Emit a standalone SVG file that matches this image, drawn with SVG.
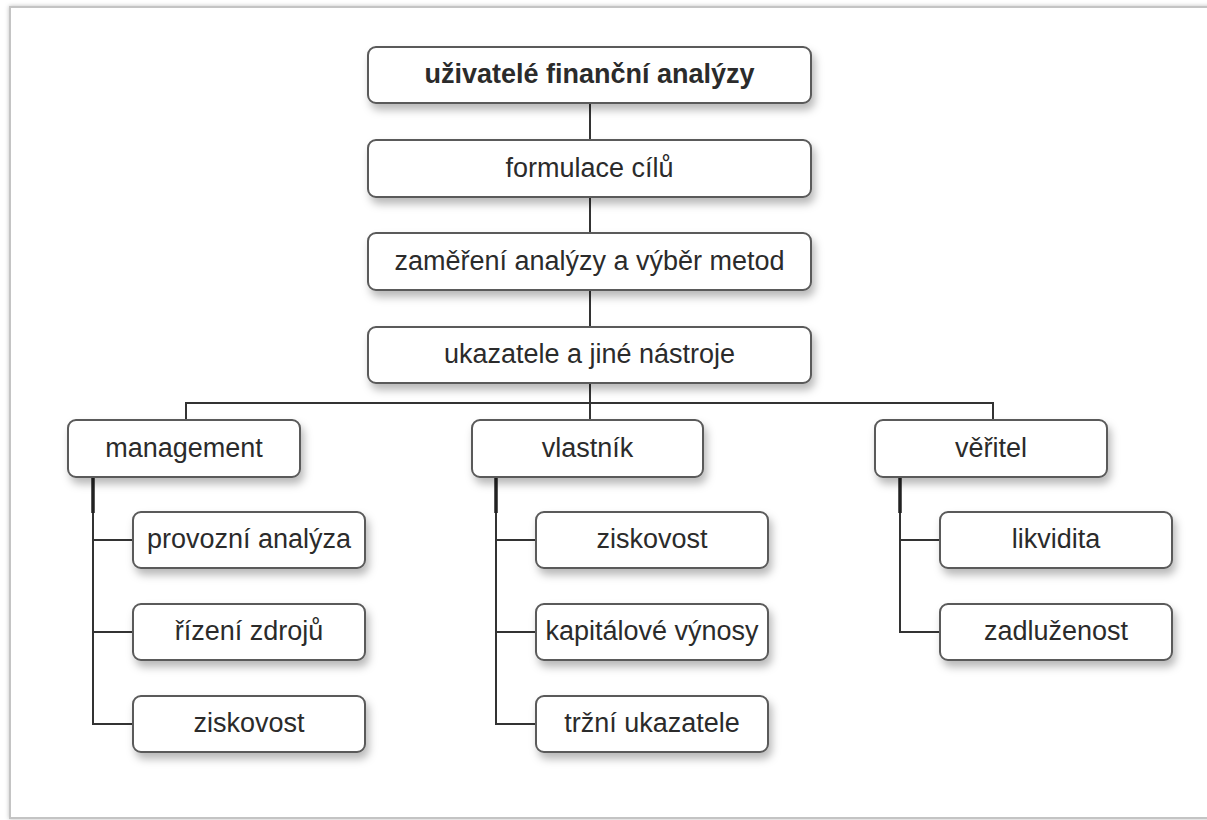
<svg xmlns="http://www.w3.org/2000/svg" width="1207" height="820" viewBox="0 0 1207 820">
<defs>
<filter id="sh" x="-10%" y="-20%" width="130%" height="160%">
<feDropShadow dx="3" dy="6" stdDeviation="4" flood-color="#000" flood-opacity="0.28"/>
</filter>
<filter id="fsh" x="-5%" y="-5%" width="110%" height="110%">
<feDropShadow dx="0" dy="0" stdDeviation="2" flood-color="#000" flood-opacity="0.25"/>
</filter>
</defs>
<style>
.box{fill:#fff;stroke:#5a5a5a;stroke-width:2;filter:url(#sh)}
.t{font-family:"Liberation Sans",Arial,sans-serif;font-size:27px;fill:#2b2b2b;text-anchor:middle}
.b{font-weight:bold}
.c{stroke:#333;stroke-width:2;fill:none}
.ct{stroke:#222;stroke-width:3.5;fill:none}
</style>
<rect x="10" y="7" width="1320" height="811" fill="#fff" stroke="#c4c4c4" stroke-width="2" filter="url(#fsh)"/>
<g id="connectors">
<line class="c" x1="590" y1="103" x2="590" y2="140"/>
<line class="c" x1="590" y1="197" x2="590" y2="233"/>
<line class="c" x1="590" y1="290" x2="590" y2="327"/>
<line class="c" x1="590" y1="383" x2="590" y2="420"/>
<polyline class="c" points="186,420 186,403 993,403 993,420"/>
<line class="ct" x1="93" y1="477" x2="93" y2="513"/>
<polyline class="c" points="93,513 93,724 133,724"/>
<line class="c" x1="93" y1="540" x2="133" y2="540"/>
<line class="c" x1="93" y1="632" x2="133" y2="632"/>
<line class="ct" x1="496" y1="477" x2="496" y2="513"/>
<polyline class="c" points="496,513 496,724 536,724"/>
<line class="c" x1="496" y1="540" x2="536" y2="540"/>
<line class="c" x1="496" y1="632" x2="536" y2="632"/>
<line class="ct" x1="900" y1="477" x2="900" y2="513"/>
<polyline class="c" points="900,513 900,632 940,632"/>
<line class="c" x1="900" y1="540" x2="940" y2="540"/>
</g>
<g id="n-users"><rect class="box" x="368" y="47" width="443" height="56" rx="8"/><text class="t b" x="589.5" y="83">uživatelé finanční analýzy</text></g>
<g id="n-goals"><rect class="box" x="368" y="140" width="443" height="57" rx="8"/><text class="t" x="589.5" y="176.5">formulace cílů</text></g>
<g id="n-focus"><rect class="box" x="368" y="233" width="443" height="57" rx="8"/><text class="t" x="589.5" y="269.5">zaměření analýzy a výběr metod</text></g>
<g id="n-tools"><rect class="box" x="368" y="327" width="443" height="56" rx="8"/><text class="t" x="589.5" y="363">ukazatele a jiné nástroje</text></g>
<g id="n-management"><rect class="box" x="68" y="420" width="232" height="57" rx="8"/><text class="t" x="184" y="456.5">management</text></g>
<g id="n-owner"><rect class="box" x="472" y="420" width="231" height="57" rx="8"/><text class="t" x="587.5" y="456.5">vlastník</text></g>
<g id="n-creditor"><rect class="box" x="875" y="420" width="232" height="57" rx="8"/><text class="t" x="991" y="456.5">věřitel</text></g>
<g id="n-m1"><rect class="box" x="133" y="512" width="232" height="56" rx="8"/><text class="t" x="249" y="548">provozní analýza</text></g>
<g id="n-m2"><rect class="box" x="133" y="604" width="232" height="56" rx="8"/><text class="t" x="249" y="640">řízení zdrojů</text></g>
<g id="n-m3"><rect class="box" x="133" y="696" width="232" height="56" rx="8"/><text class="t" x="249" y="732">ziskovost</text></g>
<g id="n-o1"><rect class="box" x="536" y="512" width="232" height="56" rx="8"/><text class="t" x="652" y="548">ziskovost</text></g>
<g id="n-o2"><rect class="box" x="536" y="604" width="232" height="56" rx="8"/><text class="t" x="652" y="640">kapitálové výnosy</text></g>
<g id="n-o3"><rect class="box" x="536" y="696" width="232" height="56" rx="8"/><text class="t" x="652" y="732">tržní ukazatele</text></g>
<g id="n-c1"><rect class="box" x="940" y="512" width="232" height="56" rx="8"/><text class="t" x="1056" y="548">likvidita</text></g>
<g id="n-c2"><rect class="box" x="940" y="604" width="232" height="56" rx="8"/><text class="t" x="1056" y="640">zadluženost</text></g>
</svg>
